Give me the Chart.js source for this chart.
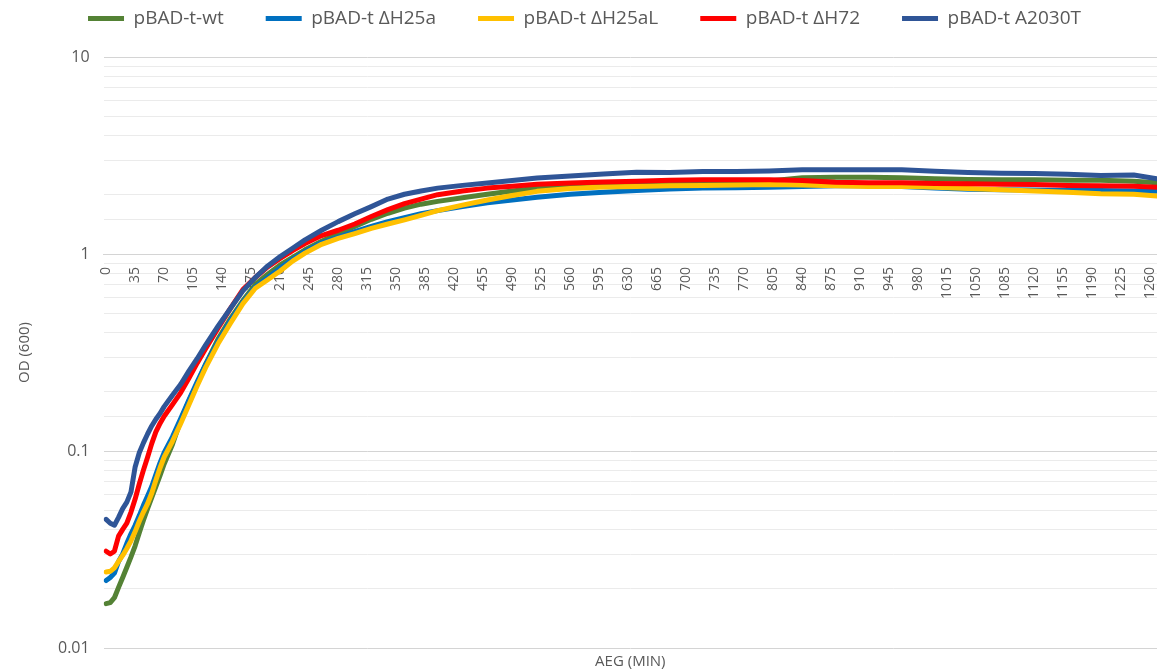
<!DOCTYPE html>
<html>
<head>
<meta charset="utf-8">
<title>Growth curves</title>
<script src="https://cdn.jsdelivr.net/npm/chart.js@4/dist/chart.umd.min.js"></script>
<style>
  html, body { margin: 0; padding: 0; background: #ffffff; }
  #wrap { width: 1157px; height: 672px; position: relative; }
</style>
</head>
<body>
<div id="wrap"><canvas id="growthChart"></canvas></div>
<script>
// ========== Data ==========
const timeMin = [0, 5, 10, 15, 20, 25, 30, 35, 40, 45, 50, 55, 60, 65, 70, 80, 90, 100, 110, 120,
  135, 150, 165, 180, 195, 210, 225, 240, 260, 280, 300, 320, 340, 360, 380, 400, 430, 460, 490, 520,
  560, 600, 640, 680, 720, 760, 800, 840, 880, 920, 960, 1000, 1040, 1080, 1120, 1160, 1200, 1240, 1268];

const wt = [0.0168, 0.0170, 0.0180, 0.0203, 0.0228, 0.0257, 0.0290, 0.0330, 0.0385, 0.0445, 0.051, 0.058, 0.066, 0.075, 0.086, 0.108, 0.143, 0.180, 0.22, 0.275,
  0.37, 0.47, 0.58, 0.70, 0.79, 0.88, 0.96, 1.05, 1.16, 1.27, 1.38, 1.50, 1.61, 1.71, 1.79, 1.85, 1.93, 2.01, 2.09, 2.16,
  2.22, 2.26, 2.29, 2.32, 2.33, 2.34, 2.35, 2.44, 2.45, 2.45, 2.44, 2.41, 2.39, 2.38, 2.38, 2.37, 2.37, 2.34, 2.30];

const dH25a = [0.0220, 0.0228, 0.0240, 0.0275, 0.030, 0.034, 0.038, 0.042, 0.047, 0.053, 0.059, 0.066, 0.076, 0.087, 0.098, 0.118, 0.146, 0.182, 0.225, 0.275,
  0.36, 0.46, 0.57, 0.68, 0.76, 0.85, 0.94, 1.03, 1.14, 1.22, 1.30, 1.38, 1.46, 1.53, 1.60, 1.66, 1.74, 1.82, 1.88, 1.94,
  2.01, 2.06, 2.10, 2.14, 2.16, 2.17, 2.18, 2.20, 2.22, 2.22, 2.20, 2.16, 2.13, 2.12, 2.11, 2.10, 2.10, 2.09, 2.08];

const dH25aL = [0.0243, 0.0245, 0.0255, 0.0275, 0.0295, 0.032, 0.035, 0.039, 0.044, 0.049, 0.054, 0.061, 0.071, 0.082, 0.093, 0.112, 0.138, 0.172, 0.215, 0.265,
  0.35, 0.445, 0.56, 0.67, 0.74, 0.82, 0.92, 1.01, 1.12, 1.20, 1.27, 1.35, 1.42, 1.49, 1.57, 1.66, 1.77, 1.88, 1.98, 2.08,
  2.15, 2.19, 2.20, 2.22, 2.23, 2.24, 2.25, 2.24, 2.22, 2.20, 2.21, 2.18, 2.15, 2.12, 2.09, 2.06, 2.02, 2.01, 1.97];

const dH72 = [0.031, 0.030, 0.031, 0.037, 0.040, 0.043, 0.049, 0.057, 0.068, 0.080, 0.093, 0.109, 0.125, 0.138, 0.150, 0.172, 0.198, 0.235, 0.28, 0.33,
  0.42, 0.53, 0.66, 0.76, 0.86, 0.95, 1.04, 1.13, 1.24, 1.32, 1.42, 1.55, 1.68, 1.80, 1.90, 2.00, 2.09, 2.16, 2.21, 2.26,
  2.29, 2.32, 2.34, 2.37, 2.38, 2.38, 2.38, 2.36, 2.31, 2.30, 2.30, 2.28, 2.27, 2.26, 2.25, 2.23, 2.22, 2.21, 2.18];

const a2030T = [0.045, 0.043, 0.042, 0.046, 0.051, 0.055, 0.062, 0.083, 0.098, 0.110, 0.122, 0.134, 0.145, 0.155, 0.168, 0.192, 0.218, 0.255, 0.295, 0.345,
  0.43, 0.53, 0.65, 0.76, 0.87, 0.97, 1.07, 1.18, 1.32, 1.46, 1.60, 1.74, 1.90, 2.01, 2.09, 2.16, 2.23, 2.29, 2.36, 2.43,
  2.49, 2.55, 2.60, 2.59, 2.62, 2.62, 2.64, 2.68, 2.68, 2.68, 2.68, 2.63, 2.59, 2.57, 2.56, 2.54, 2.50, 2.52, 2.41];

const seriesNames = ["pBAD-t-wt", "pBAD-t \u0394H25a", "pBAD-t \u0394H25aL", "pBAD-t \u0394H72", "pBAD-t A2030T"];
const seriesColors = ["#548235", "#0070C0", "#FFC000", "#FF0000", "#2F5597"];

const xTickLabels = [0, 35, 70, 105, 140, 175, 210, 245, 280, 315, 350, 385, 420, 455, 490, 525, 560, 595,
  630, 665, 700, 735, 770, 805, 840, 875, 910, 945, 980, 1015, 1050, 1085, 1120, 1155, 1190, 1225, 1260];
const yTickLabels = ["0.01", "0.1", "1", "10"];

// ========== Build datasets ==========
const allSeries = [wt, dH25a, dH25aL, dH72, a2030T];
const textColor = "#595959";
const fontFam = "'Open Sans', 'Liberation Sans', sans-serif";

const datasets = allSeries.map((vals, i) => ({
  label: seriesNames[i],
  data: timeMin.map((t, k) => ({ x: t, y: vals[k] })),
  borderColor: seriesColors[i],
  backgroundColor: seriesColors[i],
  borderWidth: 5,
  pointRadius: 0,
  borderCapStyle: "round",
  borderJoinStyle: "round",
  tension: 0,
  order: -i   // later series painted on top, like the original
}));

function isDecade(v) {
  const l = Math.log10(v);
  return Math.abs(l - Math.round(l)) < 1e-9;
}

// legend needs a bit more room under it than Chart.js gives
const legendGap = {
  id: "legendGap",
  beforeInit(chart) {
    const origFit = chart.legend.fit;
    chart.legend.fit = function fit() {
      origFit.bind(chart.legend)();
      this.height += 19;
    };
  }
};

// ========== Chart ==========
const ctx = document.getElementById("growthChart");
new Chart(ctx, {
  type: "line",
  data: { datasets: datasets },
  plugins: [legendGap],
  options: {
    responsive: true,
    maintainAspectRatio: false,
    animation: false,
    layout: { padding: { top: -33, right: 0, left: 12, bottom: 2 } },
    plugins: {
      legend: {
        position: "top",
        labels: {
          usePointStyle: true,
          pointStyle: "line",
          pointStyleWidth: 36,
          padding: 42,
          color: textColor,
          font: { family: fontFam, size: 19 },
          sort: (a, b) => a.datasetIndex - b.datasetIndex
        }
      },
      title: {
        display: true,
        position: "bottom",
        fullSize: false,
        text: "AEG (MIN)",
        color: textColor,
        font: { family: fontFam, size: 15, weight: "normal" },
        padding: { top: 5, bottom: -1 }
      },
      tooltip: { enabled: false }
    },
    scales: {
      x: {
        type: "linear",
        min: -3,
        max: 1268,
        position: { y: 1 },
        afterBuildTicks: axis => {
          axis.ticks = xTickLabels.map(v => ({ value: v }));
        },
        // let the plot run to the right edge like the original
        afterFit: axis => {
          axis.paddingRight = 0;
        },
        ticks: {
          autoSkip: false,
          maxRotation: 90,
          minRotation: 90,
          padding: 5,
          color: textColor,
          font: { family: fontFam, size: 14 },
          callback: v => String(v)
        },
        grid: { display: false },
        border: { display: true, color: "#d4d4d4", width: 1 }
      },
      y: {
        type: "logarithmic",
        min: 0.01,
        max: 10,
        title: {
          display: true,
          text: "OD (600)",
          color: textColor,
          font: { family: fontFam, size: 15 },
          padding: { bottom: 10 }
        },
        ticks: {
          autoSkip: false,
          padding: 14,
          color: textColor,
          font: { family: fontFam, size: 16 },
          callback: v => {
            const lbl = yTickLabels.find(s => Math.abs(parseFloat(s) - v) < 1e-9);
            return lbl === undefined ? "" : lbl;
          }
        },
        grid: {
          drawTicks: false,
          color: c => isDecade(c.tick.value) ? "#d4d4d4" : "#ebebeb",
          lineWidth: 1
        },
        border: { display: false }
      }
    }
  }
});
</script>
</body>
</html>
